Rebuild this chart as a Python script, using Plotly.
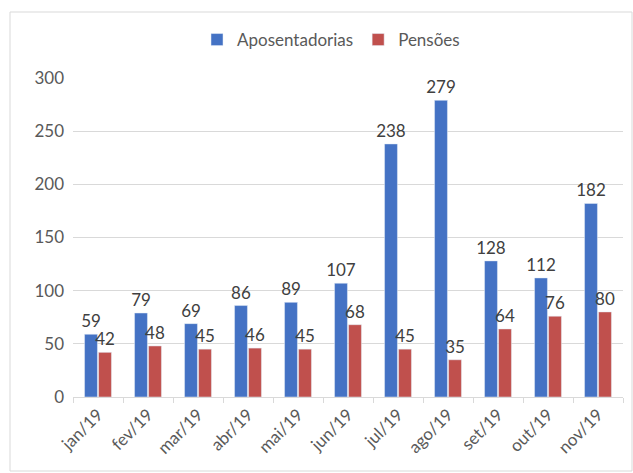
import plotly.graph_objects as go

categories = ["jan/19", "fev/19", "mar/19", "abr/19", "mai/19", "jun/19",
              "jul/19", "ago/19", "set/19", "out/19", "nov/19"]
aposentadorias = [59, 79, 69, 86, 89, 107, 238, 279, 128, 112, 182]
pensoes = [42, 48, 45, 46, 45, 68, 45, 35, 64, 76, 80]
y_ticks = [0, 50, 100, 150, 200, 250, 300]

W, H = 633, 473
ml, mr, mt, mb = 73, 10, 78, 76
pw, ph = W - ml - mr, H - mt - mb

fig = go.Figure()
fig.add_trace(go.Bar(x=categories, y=aposentadorias, name="Aposentadorias",
                     marker_color="#4472C4", text=aposentadorias,
                     textposition="outside", cliponaxis=False, constraintext="none",
                     textfont=dict(size=17, color="#404040")))
fig.add_trace(go.Bar(x=categories, y=pensoes, name="Pensões",
                     marker_color="#C0504D", text=pensoes,
                     textposition="outside", cliponaxis=False, constraintext="none",
                     textfont=dict(size=17, color="#404040")))

def px_x(p):
    return (p - ml) / pw

def px_y(p):
    return (H - mb - p) / ph

fig.update_layout(
    width=W, height=H,
    margin=dict(l=ml, r=mr, t=mt, b=mb, autoexpand=False),
    paper_bgcolor="white", plot_bgcolor="white",
    font=dict(family="Lato, Noto Sans, sans-serif", color="#595959", size=16),
    barmode="group", bargap=0.44, bargroupgap=0.08,
    legend=dict(orientation="h", x=px_x(331), xanchor="center", y=px_y(40), yanchor="middle",
                font=dict(size=17, color="#595959"), itemwidth=30),
    shapes=[dict(type="rect", xref="paper", yref="paper",
                 x0=px_x(10), x1=px_x(632), y0=px_y(471), y1=px_y(12),
                 line=dict(color="#D9D9D9", width=1), layer="below")],
    showlegend=True,
)
fig.update_yaxes(range=[0, 300], tickvals=y_ticks, showgrid=True, gridcolor="#D9D9D9",
                 zeroline=False, showline=False, ticks="", ticklabelstandoff=8,
                 automargin=False, tickfont=dict(size=17, color="#595959"))
fig.update_xaxes(showline=True, linecolor="#D9D9D9", tickangle=-45, ticks="outside",
                 tickcolor="#D9D9D9", ticklen=5, tickson="boundaries", automargin=False,
                 tickfont=dict(size=17, color="#595959"))

fig.write_html("out.html", config={"displayModeBar": False},
               post_script="document.body.style.margin='0';document.body.style.padding='0';")
